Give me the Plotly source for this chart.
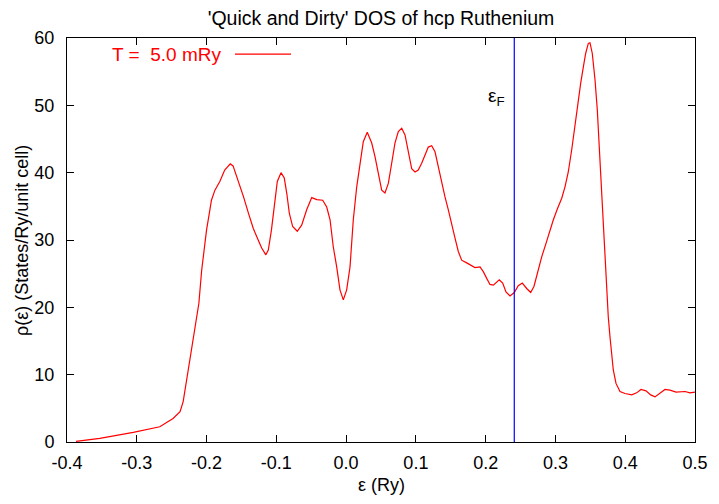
import plotly.graph_objects as go

# Energy (Ry) and DOS (States/Ry/unit cell)
energy = [-0.387, -0.353, -0.305, -0.267, -0.248, -0.238, -0.2335, -0.2285, -0.222, -0.214,
          -0.211, -0.207, -0.203, -0.200, -0.196, -0.193, -0.188, -0.181, -0.174, -0.166,
          -0.162, -0.155, -0.147, -0.140, -0.133, -0.126, -0.121, -0.115, -0.1115, -0.107,
          -0.102, -0.0986, -0.0933, -0.0886, -0.085, -0.0814, -0.0766, -0.070, -0.0637, -0.0565,
          -0.0493, -0.042, -0.0336, -0.0278, -0.023, -0.0184, -0.0135, -0.0088, -0.004, 0.0008,
          0.0056, 0.0103, 0.0152, 0.0199, 0.0246, 0.0303, 0.0367, 0.0414, 0.0461, 0.051,
          0.0557, 0.0605, 0.0653, 0.070, 0.0748, 0.0797, 0.0844, 0.0891, 0.094, 0.0987,
          0.1034, 0.1083, 0.113, 0.1178, 0.1226, 0.1274, 0.1321, 0.137, 0.1417, 0.1464,
          0.1513, 0.156, 0.1608, 0.1656, 0.1728, 0.18, 0.1847, 0.1919, 0.1966, 0.2015,
          0.2062, 0.211, 0.2158, 0.2195, 0.2244, 0.2291, 0.2349, 0.241, 0.2467, 0.2525,
          0.2588, 0.2645, 0.2692, 0.274, 0.2803, 0.2865, 0.2922, 0.297, 0.3027, 0.309,
          0.3137, 0.3184, 0.3233, 0.3256, 0.3294, 0.3327, 0.3362, 0.34, 0.3433, 0.3471,
          0.3495, 0.3528, 0.3567, 0.36, 0.362, 0.3638, 0.3663, 0.3686, 0.371, 0.3734,
          0.3757, 0.3782, 0.3806, 0.3829, 0.3868, 0.3925, 0.3997, 0.4093, 0.4164, 0.4226,
          0.4298, 0.4365, 0.4427, 0.4498, 0.457, 0.4641, 0.4728, 0.4857, 0.4928, 0.5]
dos = [0.1, 0.55, 1.44, 2.27, 3.5, 4.5, 6.0, 9.2, 13.5, 18.4,
       20.6, 25.5, 29.3, 31.5, 34.0, 35.9, 37.4, 38.7, 40.4, 41.3,
       41.0, 38.9, 36.4, 34.0, 31.7, 30.0, 28.8, 27.8, 28.5, 31.5,
       35.4, 38.7, 40.0, 39.2, 36.9, 34.0, 32.0, 31.3, 32.2, 34.5,
       36.3, 36.0, 35.9, 34.9, 33.0, 29.0, 26.0, 22.6, 21.1, 22.6,
       26.0, 33.0, 37.9, 41.4, 44.6, 46.0, 44.4, 42.4, 39.9, 37.4,
       37.0, 38.4, 41.4, 44.4, 46.1, 46.6, 45.6, 42.9, 40.6, 40.1,
       40.4, 41.4, 42.6, 43.8, 44.0, 43.1, 40.9, 38.4, 36.4, 34.5,
       32.2, 30.3, 28.3, 27.0, 26.6, 26.1, 25.9, 26.0, 25.3, 24.3,
       23.4, 23.3, 23.8, 24.1, 23.6, 22.3, 21.7, 22.2, 23.2, 23.6,
       22.8, 22.2, 23.1, 25.1, 27.5, 29.5, 31.5, 33.0, 34.6, 36.2,
       37.9, 40.1, 43.4, 45.3, 48.1, 50.8, 53.3, 55.7, 57.7, 59.2,
       59.3, 57.7, 53.8, 49.3, 45.3, 41.4, 37.4, 31.0, 26.0, 22.1,
       18.6, 15.6, 12.7, 10.7, 8.7, 7.5, 7.2, 7.0, 7.3, 7.8,
       7.6, 7.0, 6.7, 7.2, 7.8, 7.7, 7.4, 7.5, 7.3, 7.4]

fermi_energy = 0.241
x_ticks = [-0.4, -0.3, -0.2, -0.1, 0.0, 0.1, 0.2, 0.3, 0.4, 0.5]
x_tick_labels = ["-0.4", "-0.3", "-0.2", "-0.1", "0.0", "0.1", "0.2", "0.3", "0.4", "0.5"]
y_ticks = [0, 10, 20, 30, 40, 50, 60]
legend_label = "T =  5.0 mRy"
title_text = "'Quick and Dirty' DOS of hcp Ruthenium"

FONT = "Liberation Sans, Arial, Helvetica, sans-serif"

fig = go.Figure()
fig.add_trace(go.Scatter(x=energy, y=dos, mode="lines",
                         line=dict(color="#ff0000", width=1.2),
                         showlegend=False, hoverinfo="skip"))

# Fermi level line
fig.add_shape(type="line", xref="x", yref="paper", x0=fermi_energy, x1=fermi_energy,
              y0=0, y1=1, line=dict(color="#0000ff", width=1.2))

# gnuplot-style key: text then line sample
fig.add_annotation(text=legend_label, xref="paper", yref="paper", x=0.248, y=0.958,
                   xanchor="right", yanchor="middle", showarrow=False,
                   font=dict(family=FONT, size=19, color="#ff0000"))
fig.add_shape(type="line", xref="paper", yref="paper", x0=0.2675, x1=0.3567,
              y0=0.960, y1=0.960, line=dict(color="#ff0000", width=1.2))

# epsilon_F label
fig.add_annotation(text="ε<sub>F</sub>", xref="x", yref="y", x=0.2305, y=51.2,
                   xanchor="right", yanchor="middle", showarrow=False,
                   font=dict(family=FONT, size=19, color="black"))

# axis titles
fig.add_annotation(text="ε (Ry)", xref="paper", yref="paper", x=0.5, y=-0.106,
                   xanchor="center", yanchor="middle", showarrow=False,
                   font=dict(family=FONT, size=18, color="black"))
fig.add_annotation(text="ρ(ε) (States/Ry/unit cell)", xref="paper", yref="paper",
                   x=-0.0717, y=0.5, xanchor="center", yanchor="middle", textangle=-90,
                   showarrow=False, font=dict(family=FONT, size=18, color="black"))

axis_common = dict(showgrid=False, zeroline=False, showline=True, linecolor="black",
                   linewidth=1, mirror="allticks", ticks="inside", ticklen=7,
                   tickcolor="black", tickwidth=1,
                   tickfont=dict(family=FONT, size=18, color="black"))

# the page body adds an 8px offset; the figure is sized/margined to compensate
fig.update_layout(
    width=711, height=496, autosize=False,
    margin=dict(l=59, r=24, t=30, b=62),
    paper_bgcolor="white", plot_bgcolor="white",
    title=dict(text=title_text, x=0.5, xref="paper", y=1 - 10 / 496, yref="container",
               xanchor="center", yanchor="middle",
               font=dict(family=FONT, size=19.5, color="black")),
    xaxis=dict(range=[-0.4, 0.5], tickvals=x_ticks, ticktext=x_tick_labels,
               ticklabelstandoff=4, **axis_common),
    yaxis=dict(range=[0, 60], tickvals=y_ticks, ticklabelstandoff=8, **axis_common),
)

fig.write_html("out.html")
